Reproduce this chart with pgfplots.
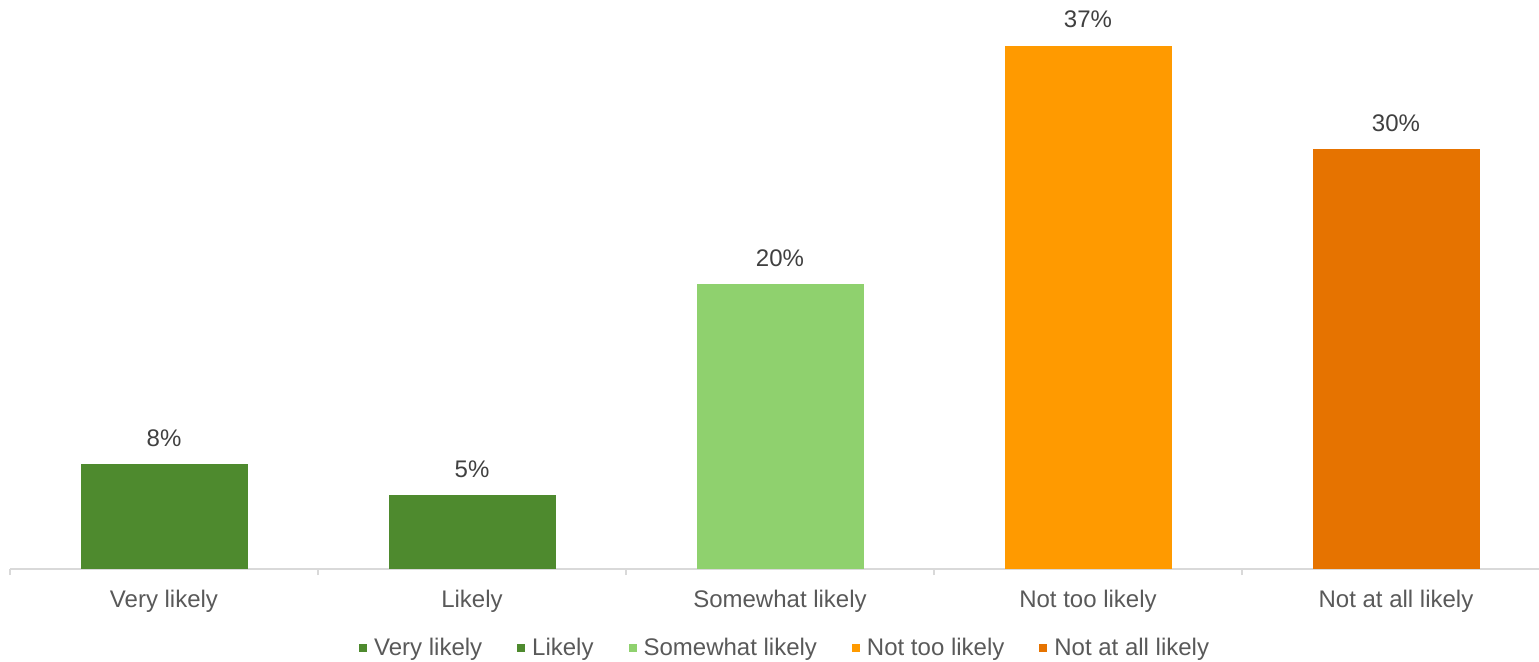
\documentclass[border=0pt]{standalone}
\usepackage{pgfplots}
\pgfplotsset{compat=1.18}
\usepackage{fontspec}
\setmainfont{Liberation Sans}
\definecolor{dgreen}{HTML}{4E8A2E}
\definecolor{lgreen}{HTML}{8FD16E}
\definecolor{lorange}{HTML}{FF9A00}
\definecolor{dorange}{HTML}{E67300}
\definecolor{axgray}{HTML}{D9D9D9}
\definecolor{txtgray}{HTML}{595959}
\definecolor{lblgray}{HTML}{404040}
\begin{document}
\begin{tikzpicture}
\useasboundingbox (0,0) rectangle (769.5pt,330.5pt);
\begin{axis}[
  at={(5pt,46pt)}, anchor=south west,
  scale only axis, width=770pt, height=284.5pt,
  xmin=-0.5, xmax=4.5, ymin=0, ymax=40.25,
  axis x line*=bottom, axis y line=none,
  axis line style={draw=axgray, line width=1pt},
  xtick={0,1,2,3,4},
  xticklabels={Very likely,Likely,Somewhat likely,Not too likely,Not at all likely},
  major x tick style={draw=none},
  extra x ticks={-0.5,0.5,1.5,2.5,3.5,4.5},
  extra x tick labels={},
  extra x tick style={major tick length=3pt, tick align=outside, major x tick style={draw=axgray, line width=1pt}},
  xticklabel style={font=\fontsize{12}{14}\selectfont, text=txtgray, yshift=-3pt},
  ytick=\empty,
  ybar, bar width=83.5pt,
  every axis plot/.append style={bar shift=0pt, draw=none},
  point meta=explicit symbolic,
  nodes near coords,
  every node near coord/.append style={font=\fontsize{12}{14}\selectfont, text=lblgray, anchor=base, inner sep=0pt, yshift=9pt},
  legend columns=5,
  legend style={at={(0.504,-0.139)}, anchor=center, draw=none, fill=none,
    font=\fontsize{12}{14}\selectfont, text=txtgray,
    /tikz/every odd column/.append style={column sep=1.5pt},
    /tikz/every even column/.append style={column sep=15.5pt},
    inner sep=0pt},
  legend image code/.code={\fill[#1] (0pt,-2pt) rectangle (4pt,2pt);},
  clip=false,
]
\addplot[fill=dgreen] coordinates {(0,7.4) [8\%]};
\addlegendentry{Very likely}
\addplot[fill=dgreen] coordinates {(1,5.2) [5\%]};
\addlegendentry{Likely}
\addplot[fill=lgreen] coordinates {(2,20.15) [20\%]};
\addlegendentry{Somewhat likely}
\addplot[fill=lorange] coordinates {(3,37) [37\%]};
\addlegendentry{Not too likely}
\addplot[fill=dorange] coordinates {(4,29.7) [30\%]};
\addlegendentry{Not at all likely}
\end{axis}
\end{tikzpicture}
\end{document}
